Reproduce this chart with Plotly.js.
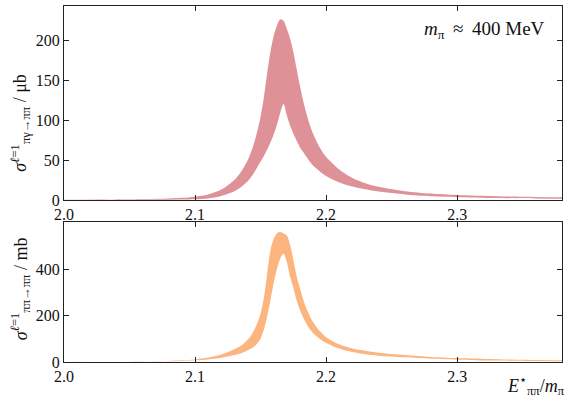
<!DOCTYPE html>
<html>
<head>
<meta charset="utf-8">
<script src="https://cdn.plot.ly/plotly-3.0.1.min.js"></script>
<style>html,body{margin:0;padding:0;background:#fff;}#chart{width:581px;height:414px;}</style>
</head>
<body>
<div id="chart"></div>
<script>
// Energy grid E*/m_pi (shared by both panels)
const E = [2.00,2.03,2.06,2.08,2.09,2.10,2.11,2.12,2.13,2.135,2.14,2.1425,2.145,2.1475,2.15,2.1525,2.155,2.1575,2.16,2.1625,2.165,2.1675,2.17,2.1725,2.175,2.1775,2.18,2.1825,2.185,2.1875,2.19,2.195,2.20,2.21,2.22,2.23,2.24,2.26,2.28,2.30,2.33,2.36,2.38];

// Top panel: sigma(pi gamma -> pi pi), band edges in μb
const upper_top = [0.3,0.6,1.2,2.0,2.8,4.2,7,13,25,35,49,59,71,86,104,128,158,185,205,218,226,224,214,202,185,164,143,124,108,94,83,66,54,38,27.5,21,16.5,11,8,6.2,4.7,3.9,3.5];
const lower_top = [0,0.05,0.2,0.4,0.6,1.0,2,5,11,16,23,28,34,41,48,55,63,72,82,94,109,120,106,93,83,74,66,60,54,48,43,36,30,22,17,13.5,10.5,7,4.8,3.6,2.6,1.9,1.5];

// Bottom panel: sigma(pi pi -> pi pi), band edges in mb
const upper_bot = [0.5,1.2,2.5,4.5,7,11,19,32,55,70,95,112,137,168,208,275,380,480,530,554,560,553,545,505,440,370,318,270,230,198,172,134,107,76,58,48,40,30,22,17,12,9,8];
const lower_bot = [0.2,0.6,1.5,3,4.5,7,11,18,30,38,50,57,66,80,100,140,195,265,340,400,445,467,430,367,320,265,225,192,165,142,125,100,82,58,43,33,27,20,14,10,6,4.5,3.5];

const xTicks = [2.0,2.1,2.2,2.3];
const xTickText = ['2.0','2.1','2.2','2.3'];
const yTicksTop = [0,50,100,150,200];
const yTicksBot = [0,200,400];

const colTop = 'rgb(222,146,152)';
const colBot = 'rgb(253,181,128)';
const FONT = 'Liberation Serif, DejaVu Serif, serif';

const ln = c => ({width:0, color:c, shape:'spline', smoothing:0.8});
const traces = [
  {x:E, y:lower_top, xaxis:'x2', yaxis:'y2', mode:'lines', line:ln(colTop), hoverinfo:'skip', showlegend:false},
  {x:E, y:upper_top, xaxis:'x2', yaxis:'y2', mode:'lines', fill:'tonexty', fillcolor:colTop, line:ln(colTop), hoverinfo:'skip', showlegend:false},
  {x:E, y:lower_bot, xaxis:'x', yaxis:'y', mode:'lines', line:ln(colBot), hoverinfo:'skip', showlegend:false},
  {x:E, y:upper_bot, xaxis:'x', yaxis:'y', mode:'lines', fill:'tonexty', fillcolor:colBot, line:ln(colBot), hoverinfo:'skip', showlegend:false}
];

const axBase = {
  showline:true, linecolor:'#222', linewidth:1, mirror:'ticks',
  ticks:'inside', ticklen:5, tickwidth:1, tickcolor:'#222',
  showgrid:false, zeroline:false,
  tickfont:{family:FONT, size:16, color:'#111'}
};

const layout = {
  width:581, height:414,
  margin:{l:64, r:19, t:6, b:52},
  paper_bgcolor:'#fff', plot_bgcolor:'#fff',
  font:{family:FONT, color:'#111'},
  xaxis: Object.assign({}, axBase, {domain:[0,1], anchor:'y', range:[2.0,2.38], tickvals:xTicks, ticktext:xTickText}),
  yaxis: Object.assign({}, axBase, {domain:[0,0.393], anchor:'x', range:[0,602], tickvals:yTicksBot}),
  xaxis2: Object.assign({}, axBase, {domain:[0,1], anchor:'y2', range:[2.0,2.38], tickvals:xTicks, ticktext:xTickText}),
  yaxis2: Object.assign({}, axBase, {domain:[0.455,1], anchor:'x2', range:[0,242.5], tickvals:yTicksTop}),
  annotations:[
    {xref:'paper', yref:'paper', x:0.97, y:0.972, xanchor:'right', yanchor:'top', showarrow:false,
     text:'<i>m</i><sub>π</sub> \u2009≈\u2009 400 MeV', font:{family:FONT, size:19, color:'#111'}},
    {xref:'paper', yref:'paper', x:1.01, y:-0.025, xanchor:'right', yanchor:'top', showarrow:false,
     text:'<i>E</i><sup>⋆</sup><sub>ππ</sub>/<i>m</i><sub>π</sub>', font:{family:FONT, size:18, color:'#111'}},
    {xref:'paper', yref:'paper', x:-0.088, y:0.67, xanchor:'center', yanchor:'middle', textangle:-90, showarrow:false,
     text:'<i>σ</i><sup><i>ℓ</i>=1</sup><sub>πγ→ππ</sub> / μb', font:{family:FONT, size:18, color:'#111'}},
    {xref:'paper', yref:'paper', x:-0.088, y:0.205, xanchor:'center', yanchor:'middle', textangle:-90, showarrow:false,
     text:'<i>σ</i><sup><i>ℓ</i>=1</sup><sub>ππ→ππ</sub> / mb', font:{family:FONT, size:18, color:'#111'}}
  ]
};

Plotly.newPlot('chart', traces, layout, {staticPlot:true, displayModeBar:false});
</script>
</body>
</html>
